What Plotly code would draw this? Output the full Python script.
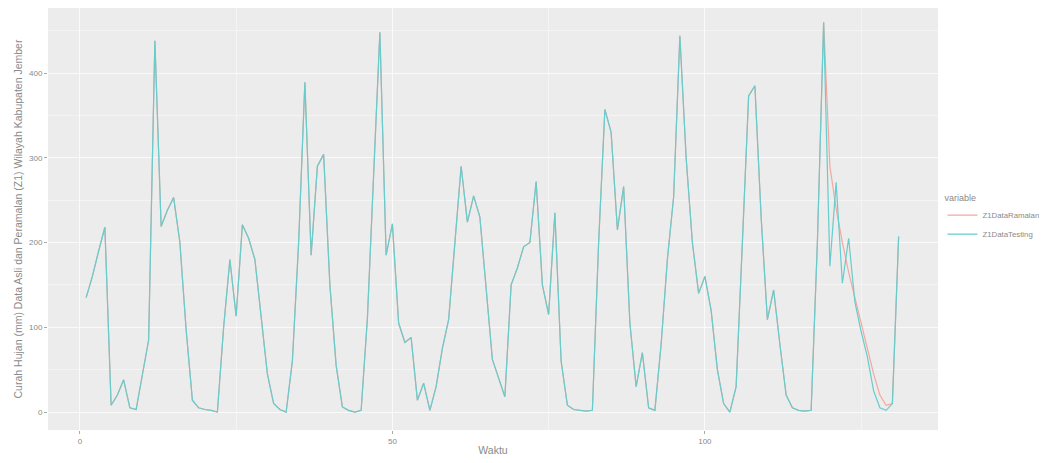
import plotly.graph_objects as go

waktu = list(range(1, 132))

z1_testing = [
    135, 160, 190, 218, 8, 20, 38, 5, 3, 45,
    85, 438, 219, 238, 253, 200, 97, 14, 5, 3,
    2, 0, 100, 180, 113, 221, 205, 180, 110, 45,
    10, 3, 0, 60, 200, 389, 185, 290, 304, 150,
    55, 6, 2, 0, 2, 110, 280, 448, 185, 222,
    105, 82, 88, 14, 34, 2, 30, 75, 109, 200,
    290, 224, 255, 230, 150, 62, 40, 18, 150, 170,
    195, 200, 272, 150, 115, 235, 60, 8, 3, 2,
    1, 2, 200, 357, 330, 215, 266, 105, 30, 70,
    5, 2, 80, 180, 254, 444, 300, 200, 140, 160,
    120, 50, 10, 0, 30, 200, 373, 385, 230, 109,
    144, 80, 20, 5, 2, 1, 2, 200, 460, 172,
    271, 152, 205, 130, 95, 65, 25, 5, 2, 10,
    207,
]

z1_ramalan = z1_testing[:119] + [
    290, 240, 200, 165, 135, 105, 75, 45, 20, 8, 10, 207,
]

y_ticks = [0, 100, 200, 300, 400]
x_ticks = [0, 50, 100]

fig = go.Figure()
fig.add_trace(go.Scatter(
    x=waktu, y=z1_ramalan, mode="lines", name="Z1DataRamalan",
    line=dict(color="#f3a7a1", width=1.2),
))
fig.add_trace(go.Scatter(
    x=waktu, y=z1_testing, mode="lines", name="Z1DataTesting",
    line=dict(color="#66cccc", width=1.2),
))

grid_col = "#fafafa"
fig.update_layout(
    width=1039, height=455,
    margin=dict(l=40, r=109, t=0, b=33),
    paper_bgcolor="white",
    plot_bgcolor="#ececec",
    font=dict(family="Liberation Sans, Arial, sans-serif", color="#8a8a8a", size=8),
    showlegend=True,
    legend=dict(
        title=dict(text="variable", font=dict(size=9, color="#8a8a8a")),
        x=1.005, xanchor="left", y=0.5, yanchor="middle",
        font=dict(size=7.8, color="#8a8a8a"),
        bgcolor="rgba(0,0,0,0)",
        itemwidth=30,
        tracegroupgap=0,
    ),
    xaxis=dict(
        range=[-5.1, 137.3],
        tickvals=x_ticks, ticktext=[str(v) for v in x_ticks],
        showgrid=True, gridcolor=grid_col, gridwidth=1.1,
        minor=dict(tickvals=[25, 75, 125], showgrid=True, gridcolor="#f4f4f4", gridwidth=0.6),
        zeroline=False, ticks="outside", ticklen=3, tickcolor="#aaaaaa",
        tickfont=dict(size=8, color="#8a8a8a"),
        title=dict(text="Waktu", font=dict(size=10.5, color="#8a8a8a"), standoff=2),
        showline=False, automargin=False,
    ),
    yaxis=dict(
        range=[-21.2, 476.7],
        tickvals=y_ticks, ticktext=[str(v) for v in y_ticks],
        showgrid=True, gridcolor=grid_col, gridwidth=1.1,
        minor=dict(tickvals=[50, 150, 250, 350, 450], showgrid=True, gridcolor="#f4f4f4", gridwidth=0.6),
        zeroline=False, ticks="outside", ticklen=3, tickcolor="#aaaaaa",
        tickfont=dict(size=8, color="#8a8a8a"),
        title=dict(text="Curah Hujan (mm) Data Asli dan Peramalan (Z1) Wilayah Kabupaten Jember",
                   font=dict(size=10.5, color="#8a8a8a"), standoff=4),
        showline=False, automargin=False,
    ),
)

fig.write_html("out.html")
